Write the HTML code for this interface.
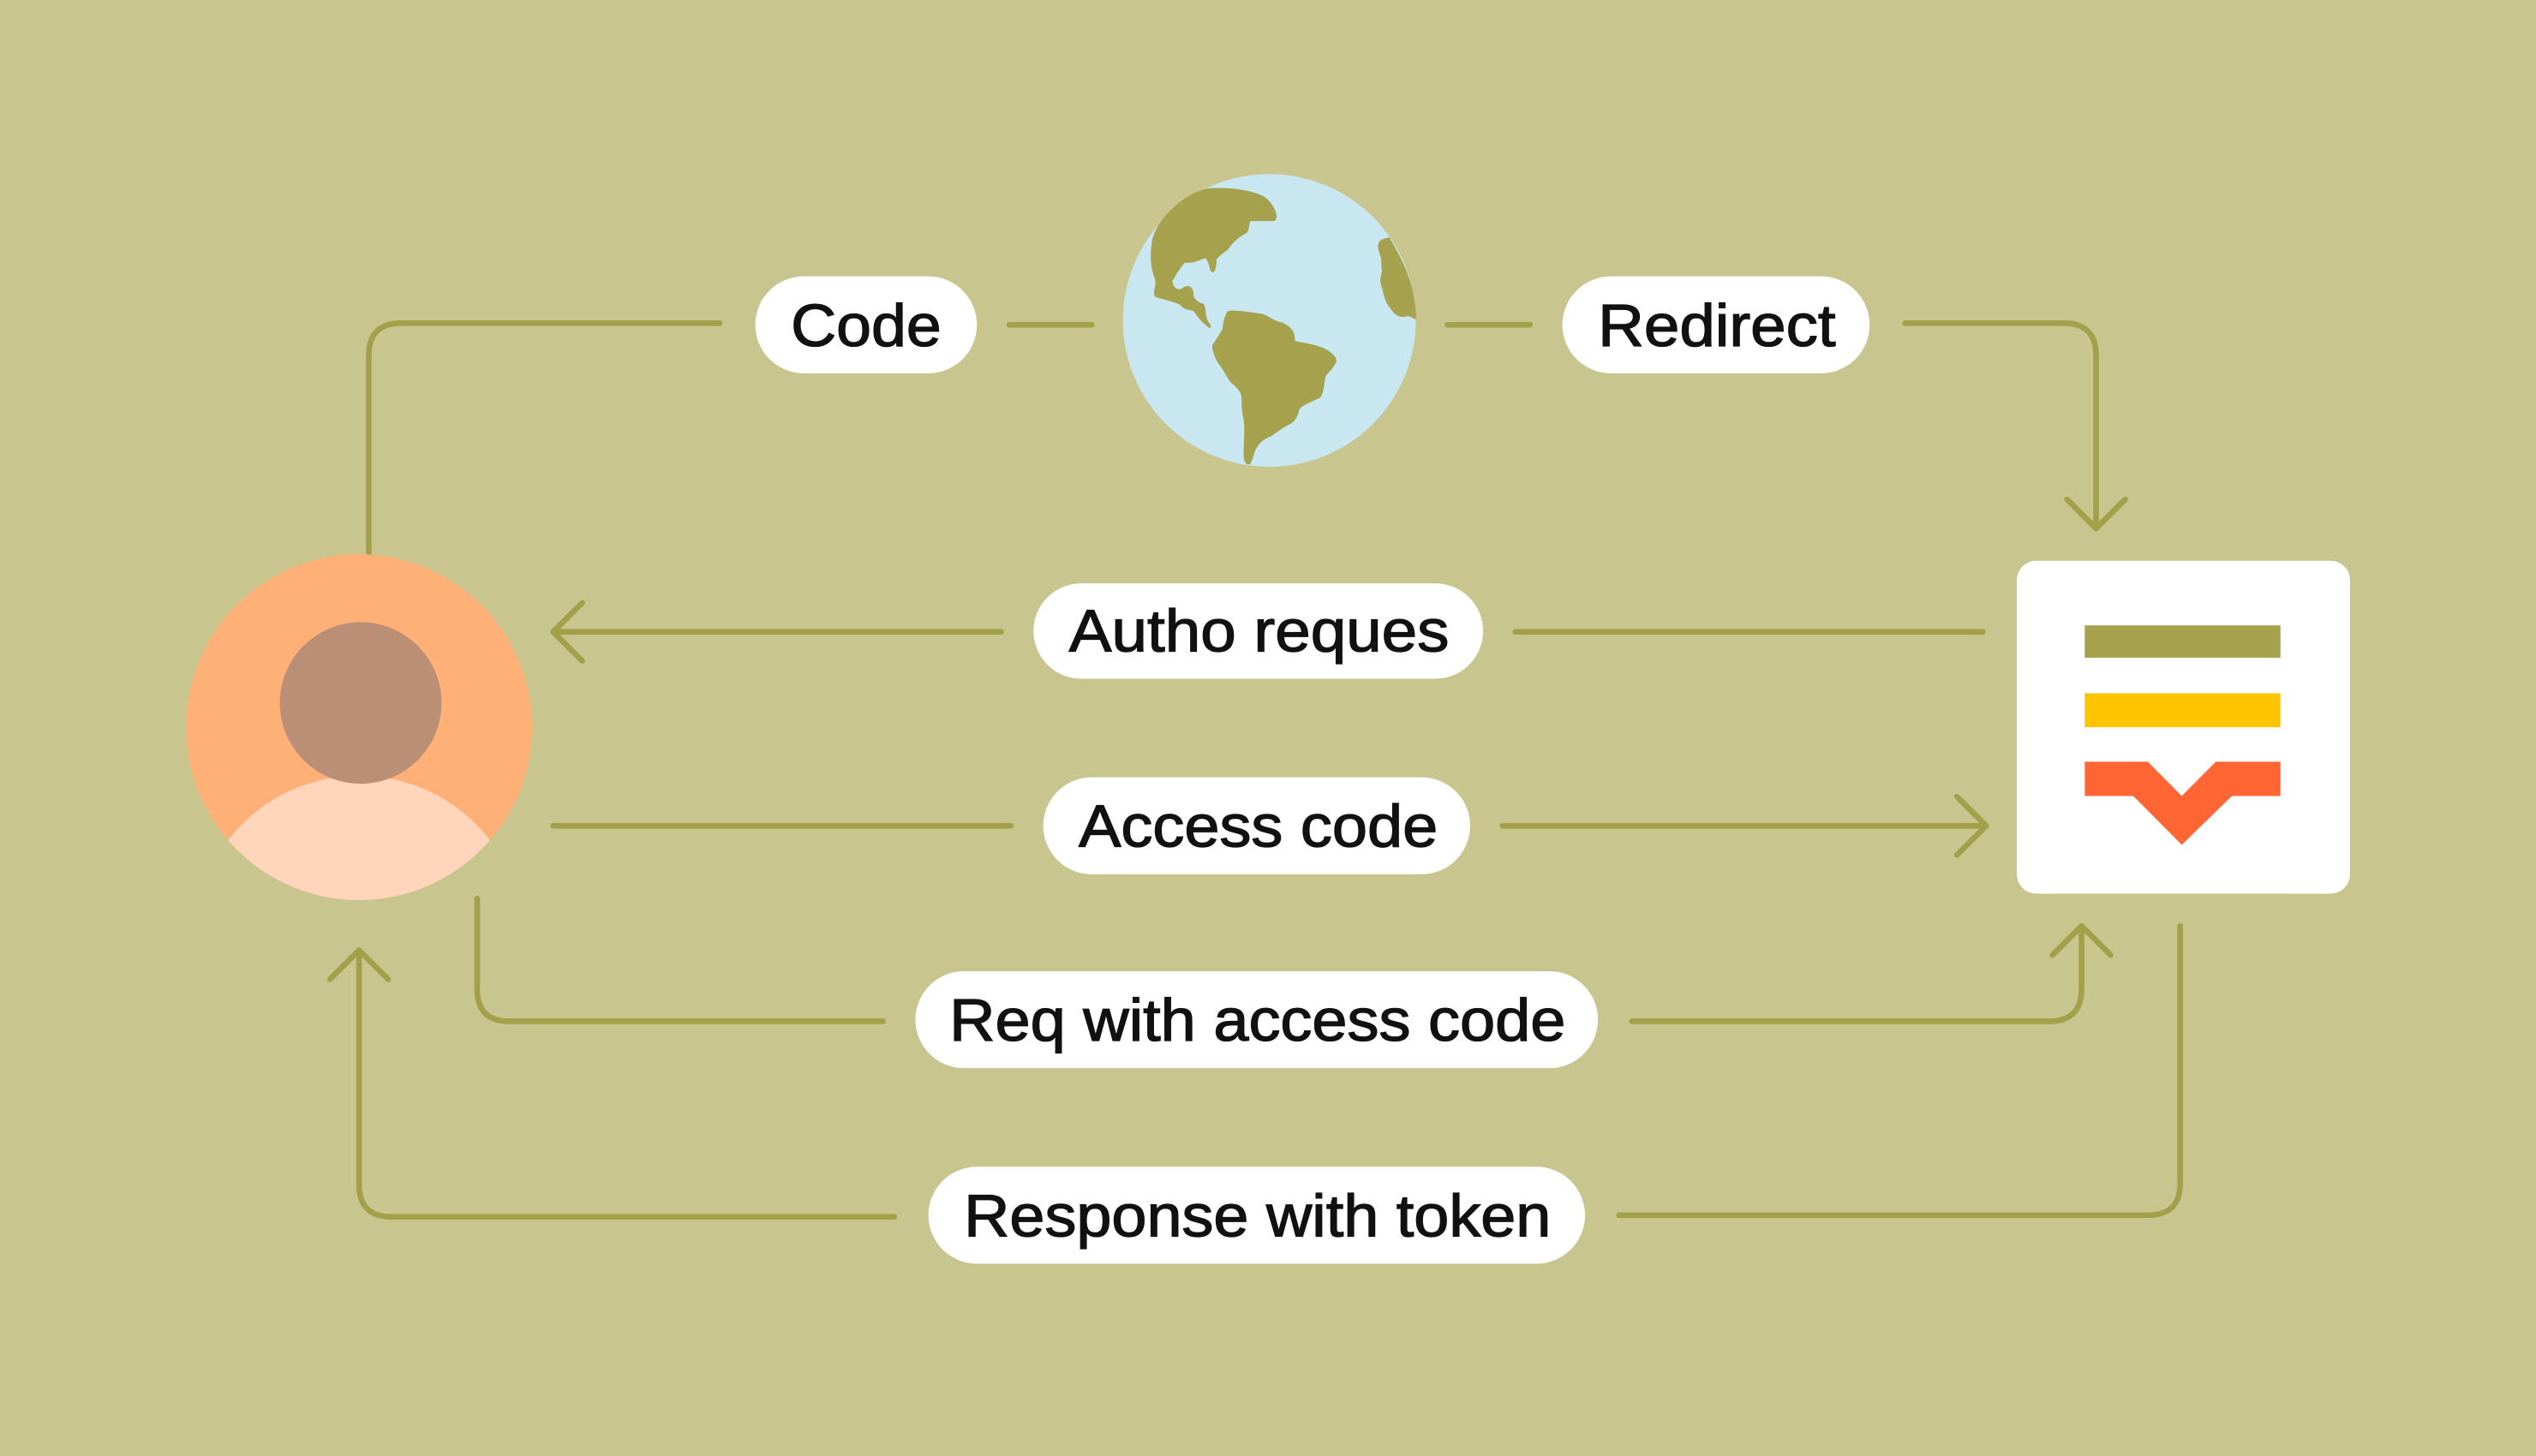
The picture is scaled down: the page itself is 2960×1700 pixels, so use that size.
<!DOCTYPE html>
<html><head><meta charset="utf-8"><style>
html,body{margin:0;padding:0;background:#c8c58f;}
svg{display:block;}
text{font-family:"Liberation Sans",sans-serif;font-size:37px;fill:#111;stroke:#111;stroke-width:0.7px;}
</style></head><body>
<svg width="2960" height="1700" viewBox="0 0 1568 901" preserveAspectRatio="none" xmlns="http://www.w3.org/2000/svg">
<rect width="1568" height="901" fill="#c8c58f"/>
<defs>
<clipPath id="pc"><circle cx="222" cy="450" r="107"/></clipPath>
</defs>
<g fill="none" stroke="#a3a04a" stroke-width="3.5" stroke-linejoin="round" stroke-linecap="round">
<path d="M228 342 V220 Q228 200 248 200 H445"/>
<path d="M624 201 H675"/>
<path d="M895 201 H946"/>
<path d="M1178 200 H1276 Q1296 200 1296 220 V327"/>
<path d="M1278 309 L1296 327 L1314 309"/>
<path d="M937 391 H1226"/>
<path d="M342 391 H619"/>
<path d="M360 373 L342 391 L360 409"/>
<path d="M342 511 H625"/>
<path d="M929 511 H1228"/>
<path d="M1210 493 L1228 511 L1210 529"/>
<path d="M295 556 V612 Q295 632 315 632 H546"/>
<path d="M1009 632 H1267 Q1287 632 1287 612 V573"/>
<path d="M1269 591 L1287 573 L1305 591"/>
<path d="M1348 573 V732 Q1348 752 1328 752 H1001"/>
<path d="M553 753 H242 Q222 753 222 733 V588"/>
<path d="M204 606 L222 588 L240 606"/>
</g>
<circle cx="222" cy="450" r="107" fill="#ffb077"/>
<circle cx="222" cy="582" r="102" fill="#ffd6bc" clip-path="url(#pc)"/>
<circle cx="223" cy="435" r="50" fill="#bb8f76"/>
<g transform="scale(0.5297) translate(1300,190) scale(0.3333)">
<circle cx="545" cy="553" r="513" fill="#c9e7f0"/>
<g fill="#a6a14c">
<path d="M330,90 C420,85 510,100 540,130 C570,160 580,200 560,205 L480,205 C470,215 480,240 460,250 C430,265 410,290 400,305 C380,320 365,330 360,340 C360,370 355,385 345,385 C335,380 335,345 320,335 C300,340 280,355 250,350 C230,370 215,400 205,415 C210,440 225,450 240,440 C260,425 275,435 280,455 C275,470 290,490 315,495 C325,510 320,540 330,555 C340,570 345,575 335,580 C315,565 295,545 280,520 C255,515 240,510 235,500 C210,485 170,480 145,470 C135,455 150,430 145,410 C130,370 125,330 135,270 C150,210 200,160 250,125 C280,105 310,95 330,90 Z"/>
<path d="M400,520 C430,515 480,525 520,530 C550,540 560,555 590,560 C620,575 635,590 635,625 C680,635 730,640 760,665 C790,690 780,700 770,715 C755,735 740,745 740,760 C735,800 730,820 720,825 C690,840 660,850 650,865 C645,890 635,905 620,915 C590,930 570,945 550,960 C520,970 505,990 495,1010 C488,1030 485,1050 475,1058 C460,1058 455,1045 455,1020 C455,980 460,940 455,900 C445,860 450,820 445,810 C435,790 420,780 410,770 C395,750 385,730 375,715 C355,690 345,660 345,640 C360,620 370,600 380,585 C385,560 385,540 400,520 Z"/>
<path d="M965,262 C1000,320 1030,380 1045,440 C1055,490 1060,520 1058,550 C1040,540 1030,535 1020,540 C990,545 975,520 965,505 C950,490 945,460 940,440 C930,420 935,395 940,380 C935,360 940,345 935,330 C925,300 920,285 935,272 C945,266 955,264 965,262 Z"/>
</g>
</g>
<rect x="1247" y="347" width="206" height="206" rx="12" fill="#fff"/>
<rect x="1289" y="387" width="121" height="20" fill="#a6a14c"/>
<rect x="1289" y="429" width="121" height="21" fill="#ffc400"/>
<path d="M1289 471.4 H1328 L1349 492.6 L1370 471.4 H1410 V492.6 H1380 L1349 522.8 L1319 492.6 H1289 Z" fill="#ff6634"/>
<g fill="#fff">
<rect x="467" y="171" width="137" height="60" rx="30"/>
<rect x="966" y="171" width="190" height="60" rx="30"/>
<rect x="639" y="361" width="278" height="59" rx="29.5"/>
<rect x="645" y="481" width="264" height="60" rx="30"/>
<rect x="566" y="601" width="422" height="60" rx="30"/>
<rect x="574" y="722" width="406" height="60" rx="30"/>
</g>
<text x="489" y="214" textLength="93" lengthAdjust="spacingAndGlyphs">Code</text>
<text x="988" y="214" textLength="147" lengthAdjust="spacingAndGlyphs">Redirect</text>
<text x="661" y="403" textLength="235" lengthAdjust="spacingAndGlyphs">Autho reques</text>
<text x="667" y="524" textLength="222" lengthAdjust="spacingAndGlyphs">Access code</text>
<text x="587" y="644" textLength="381" lengthAdjust="spacingAndGlyphs">Req with access code</text>
<text x="596" y="765" textLength="363" lengthAdjust="spacingAndGlyphs">Response with token</text>
</svg>
</body></html>
